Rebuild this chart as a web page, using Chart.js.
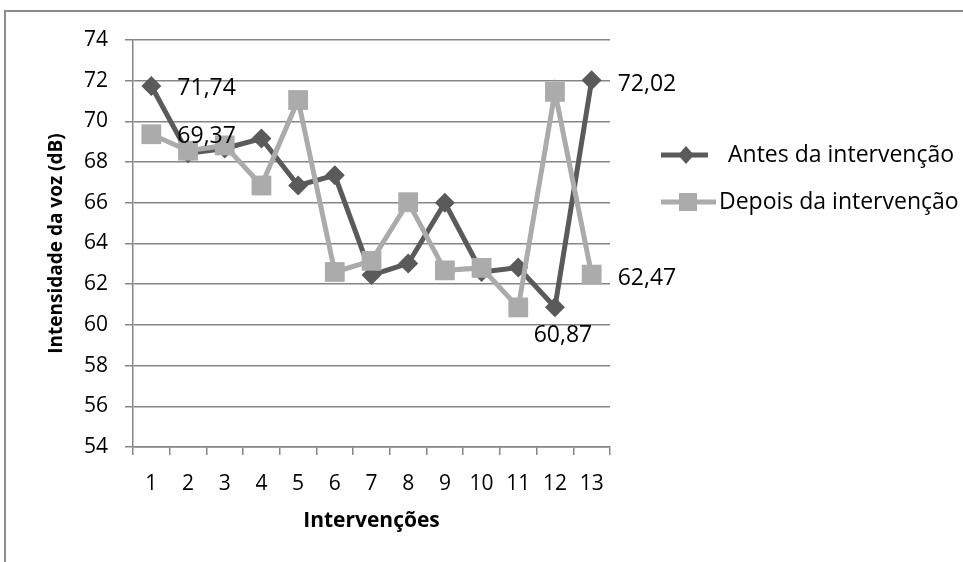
<!DOCTYPE html>
<html>
<head>
<meta charset="utf-8">
<script src="https://cdn.jsdelivr.net/npm/chart.js@4.4.1/dist/chart.umd.min.js"></script>
<style>
  html, body { margin: 0; padding: 0; background: #fff; }
  #wrap { position: relative; width: 963px; height: 562px; overflow: hidden; }
  #frame { position: absolute; left: 4px; top: 10px; width: 1000px; height: 600px;
           border-top: 2px solid #8c8c8c; border-left: 2px solid #8c8c8c; box-sizing: border-box; }
  canvas { position: absolute; left: 0; top: 0; }
</style>
</head>
<body>
<div id="wrap">
  <div id="frame"></div>
  <canvas id="c" width="963" height="562"></canvas>
</div>
<script>
// Sessões de intervenção
const categories = ['1', '2', '3', '4', '5', '6', '7', '8', '9', '10', '11', '12', '13'];
// Intensidade da voz (dB) por sessão
const antes = [71.74, 68.43, 68.67, 69.16, 66.85, 67.35, 62.45, 63.02, 66.0, 62.6, 62.82, 60.87, 72.02];
const depois = [69.37, 68.56, 68.82, 66.85, 71.05, 62.6, 63.15, 66.03, 62.68, 62.8, 60.86, 71.45, 62.47];
const seriesNames = ['Antes da intervenção', 'Depois da intervenção'];
// Eixo vertical
const yTicks = { min: 54, max: 74, step: 2 };

const DARK = '#5a5a5a';
const LIGHT = '#ababab';
const GRID = '#868686';
const FONT = "'Open Sans', sans-serif";

// Rótulos de valor mostrados: [série, índice, posição, dx, dy]
const valueLabels = [
  [0, 0, 'right', 26, 1],
  [1, 0, 'right', 26, 1],
  [0, 11, 'below', 8, 27],
  [0, 12, 'right', 26, 2],
  [1, 12, 'right', 26, 2]
];

const fmt = v => v.toFixed(2).replace('.', ',');

const labelPlugin = {
  id: 'valueLabels',
  afterDatasetsDraw(chart) {
    const ctx = chart.ctx;
    ctx.save();
    ctx.font = '23px ' + FONT;
    ctx.fillStyle = '#000';
    ctx.textBaseline = 'alphabetic';
    valueLabels.forEach(([ds, i, pos, dx, dy]) => {
      const pt = chart.getDatasetMeta(ds).data[i];
      const v = chart.data.datasets[ds].data[i];
      const cap = 23 * 0.714;
      ctx.textAlign = pos === 'right' ? 'left' : 'center';
      ctx.fillText(fmt(v), pt.x + dx, pt.y + dy + cap / 2);
    });
    ctx.restore();
  }
};

const legendPlugin = {
  id: 'sideLegend',
  afterDraw(chart) {
    const ctx = chart.ctx;
    ctx.save();
    ctx.font = '23px ' + FONT;
    ctx.fillStyle = '#000';
    ctx.textBaseline = 'middle';
    ctx.textAlign = 'left';
    // Antes
    ctx.strokeStyle = DARK; ctx.lineWidth = 5;
    ctx.beginPath(); ctx.moveTo(661, 155); ctx.lineTo(708, 155); ctx.stroke();
    ctx.fillStyle = DARK;
    ctx.beginPath();
    ctx.moveTo(686, 146); ctx.lineTo(694, 155); ctx.lineTo(686, 164); ctx.lineTo(678, 155);
    ctx.closePath(); ctx.fill();
    ctx.fillStyle = '#000';
    ctx.fillText(seriesNames[0], 728, 155);
    // Depois
    ctx.strokeStyle = LIGHT;
    ctx.beginPath(); ctx.moveTo(661, 202); ctx.lineTo(716, 202); ctx.stroke();
    ctx.fillStyle = LIGHT;
    ctx.fillRect(679, 193, 18, 18);
    ctx.fillStyle = '#000';
    ctx.fillText(seriesNames[1], 719, 202);
    ctx.restore();
  }
};

new Chart(document.getElementById('c'), {
  type: 'line',
  data: {
    labels: categories,
    datasets: [
      {
        label: seriesNames[0], data: antes, order: 1,
        borderColor: DARK, backgroundColor: DARK, borderWidth: 5,
        pointStyle: 'rectRot', pointRadius: 10, pointBorderWidth: 0,
        pointBackgroundColor: DARK, tension: 0
      },
      {
        label: seriesNames[1], data: depois, order: 0,
        borderColor: LIGHT, backgroundColor: LIGHT, borderWidth: 5,
        pointStyle: 'rect', pointRadius: 14, pointBorderWidth: 0,
        pointBackgroundColor: LIGHT, tension: 0
      }
    ]
  },
  options: {
    responsive: false,
    animation: false,
    devicePixelRatio: 1,
    layout: { padding: { left: 0, top: 40, right: 353, bottom: 0 } },
    plugins: { legend: { display: false }, tooltip: { enabled: false } },
    scales: {
      x: {
        type: 'category',
        offset: true,
        grid: { offset: true, drawOnChartArea: false, tickLength: 8, color: GRID, lineWidth: 1.5 },
        border: { color: GRID, width: 1.5 },
        ticks: { color: '#000', font: { family: FONT, size: 21 }, padding: 16, maxRotation: 0, autoSkip: false },
        title: { display: true, text: 'Intervenções', color: '#000',
                 font: { family: FONT, size: 21, weight: 'bold' }, padding: { top: 0, bottom: 28 } },
        afterFit(scale) { scale.height = 115; }
      },
      y: {
        min: yTicks.min, max: yTicks.max,
        grid: { color: GRID, lineWidth: 1.5, tickLength: 8 },
        border: { color: GRID, width: 1.5 },
        ticks: { stepSize: yTicks.step, color: '#000', font: { family: FONT, size: 21 }, padding: 17 },
        title: { display: true, text: 'Intensidade da voz (dB)', color: '#000',
                 font: { family: FONT, size: 19, weight: 'bold' }, padding: { top: 45, bottom: 0 } },
        afterFit(scale) { scale.width = 133; }
      }
    }
  },
  plugins: [labelPlugin, legendPlugin]
});
</script>
</body>
</html>
